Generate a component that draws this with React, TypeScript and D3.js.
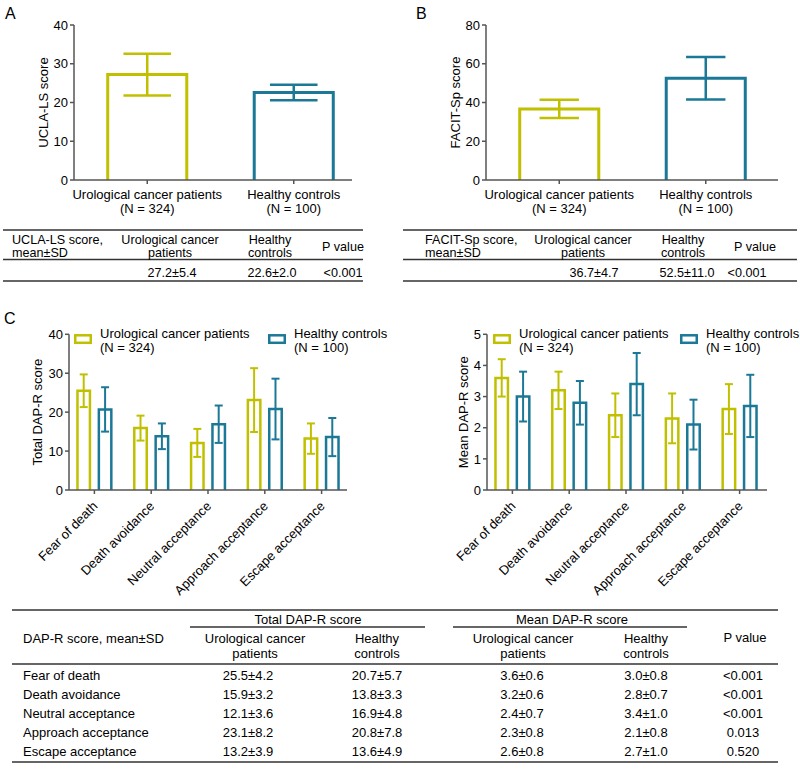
import React from "react";
import * as d3 from "d3";

const FONT = "Arial, 'Liberation Sans', sans-serif";
const YELLOW = "#c0c000";
const TEAL = "#1b7896";
const AXIS = "#555";
const LINE = "#333";

// groups used in panels A and B
const groups = ["Urological cancer patients", "Healthy controls"];
const groupN = ["(N = 324)", "(N = 100)"];
const groupColors = [YELLOW, TEAL];

const uclaMean = [27.2, 22.6];
const uclaSd = [5.4, 2.0];
const uclaTicks = [0, 10, 20, 30, 40];

const facitMean = [36.7, 52.5];
const facitSd = [4.7, 11.0];
const facitTicks = [0, 20, 40, 60, 80];

// panel C
const dapCategories = [
  "Fear of death",
  "Death avoidance",
  "Neutral acceptance",
  "Approach acceptance",
  "Escape acceptance",
];
const totalUcMean = [25.5, 15.9, 12.1, 23.1, 13.2];
const totalUcSd = [4.2, 3.2, 3.6, 8.2, 3.9];
const totalHcMean = [20.7, 13.8, 16.9, 20.8, 13.6];
const totalHcSd = [5.7, 3.3, 4.8, 7.8, 4.9];
const totalTicks = [0, 10, 20, 30, 40];

const meanUcMean = [3.6, 3.2, 2.4, 2.3, 2.6];
const meanUcSd = [0.6, 0.6, 0.7, 0.8, 0.8];
const meanHcMean = [3.0, 2.8, 3.4, 2.1, 2.7];
const meanHcSd = [0.8, 0.7, 1.0, 0.8, 1.0];
const meanTicks = [0, 1, 2, 3, 4, 5];

const pValues = ["<0.001", "<0.001", "<0.001", "0.013", "0.520"];

const fmt = (m: number, s: number) => `${m.toFixed(1)}±${s.toFixed(1)}`;

type SimpleProps = {
  axisX: number;
  axisEnd: number;
  rangeEnd: number;
  yMax: number;
  ticks: number[];
  means: number[];
  sds: number[];
  yLabel: string;
  yLabelX: number;
  capFrac: number;
};

const SimpleBars = (p: SimpleProps) => {
  const y = d3.scaleLinear().domain([0, p.yMax]).range([180, 25]);
  const x = d3
    .scaleBand<string>()
    .domain(groups)
    .range([p.axisX, p.rangeEnd])
    .paddingInner(0.44)
    .paddingOuter(0.22);
  const bw = x.bandwidth();
  const y0 = y(0);
  return (
    <g>
      {groups.map((g, i) => {
        const bx = x(g)! + 1.5;
        const w = bw - 3;
        const c = x(g)! + bw / 2;
        const cap = bw * p.capFrac;
        const lo = y(p.means[i] - p.sds[i]);
        const hi = y(p.means[i] + p.sds[i]);
        return (
          <g key={g} stroke={groupColors[i]} fill="none">
            <path
              d={`M${bx},${y0}V${y(p.means[i])}H${bx + w}V${y0}`}
              strokeWidth={3}
            />
            <line x1={c} x2={c} y1={lo} y2={hi} strokeWidth={2.5} />
            <line x1={c - cap / 2} x2={c + cap / 2} y1={lo} y2={lo} strokeWidth={2.5} />
            <line x1={c - cap / 2} x2={c + cap / 2} y1={hi} y2={hi} strokeWidth={2.5} />
          </g>
        );
      })}
      <g stroke={AXIS} strokeWidth={1.5}>
        <line x1={p.axisX} x2={p.axisX} y1={y0} y2={y(p.yMax)} />
        <line x1={p.axisX} x2={p.axisEnd} y1={y0} y2={y0} />
        {p.ticks.map((t) => (
          <line key={t} x1={p.axisX - 4} x2={p.axisX} y1={y(t)} y2={y(t)} />
        ))}
        {groups.map((g) => (
          <line key={g} x1={x(g)! + bw / 2} x2={x(g)! + bw / 2} y1={y0} y2={y0 + 4} />
        ))}
      </g>
      {p.ticks.map((t) => (
        <text key={t} x={p.axisX - 6} y={y(t)} dy="0.36em" textAnchor="end" fontSize={13}>
          {t}
        </text>
      ))}
      {groups.map((g, i) => (
        <text key={g} x={x(g)! + bw / 2} textAnchor="middle" fontSize={13}>
          <tspan x={x(g)! + bw / 2} y={199}>{g}</tspan>
          <tspan x={x(g)! + bw / 2} y={213}>{groupN[i]}</tspan>
        </text>
      ))}
      <text
        transform={`translate(${p.yLabelX},${(y0 + y(p.yMax)) / 2}) rotate(-90)`}
        textAnchor="middle"
        fontSize={13}
      >
        {p.yLabel}
      </text>
    </g>
  );
};

type GroupedProps = {
  axisX: number;
  axisEnd: number;
  range: [number, number];
  yMax: number;
  ticks: number[];
  series: { mean: number[]; sd: number[]; color: string }[];
  yLabel: string;
  yLabelX: number;
  legendX: [number, number];
};

const GroupedBars = (p: GroupedProps) => {
  const y = d3.scaleLinear().domain([0, p.yMax]).range([490, 334.3]);
  const x = d3.scaleBand<string>().domain(dapCategories).range(p.range);
  const step = x.bandwidth();
  const sub = d3
    .scaleBand<number>()
    .domain([0, 1])
    .range([step * 0.18, step * 0.82])
    .paddingInner(0.3);
  const bw = sub.bandwidth();
  const y0 = y(0);
  const cap = 8;
  return (
    <g>
      {dapCategories.map((cat, i) =>
        p.series.map((s, k) => {
          const bx = x(cat)! + sub(k)! + 1.25;
          const w = bw - 2.5;
          const c = x(cat)! + sub(k)! + bw / 2;
          const lo = y(s.mean[i] - s.sd[i]);
          const hi = y(s.mean[i] + s.sd[i]);
          return (
            <g key={cat + k} stroke={s.color} fill="none">
              <path d={`M${bx},${y0}V${y(s.mean[i])}H${bx + w}V${y0}`} strokeWidth={2.5} />
              <line x1={c} x2={c} y1={lo} y2={hi} strokeWidth={2} />
              <line x1={c - cap / 2} x2={c + cap / 2} y1={lo} y2={lo} strokeWidth={2} />
              <line x1={c - cap / 2} x2={c + cap / 2} y1={hi} y2={hi} strokeWidth={2} />
            </g>
          );
        })
      )}
      <g stroke={AXIS} strokeWidth={1.5}>
        <line x1={p.axisX} x2={p.axisX} y1={y0} y2={y(p.yMax)} />
        <line x1={p.axisX} x2={p.axisEnd} y1={y0} y2={y0} />
        {p.ticks.map((t) => (
          <line key={t} x1={p.axisX - 4} x2={p.axisX} y1={y(t)} y2={y(t)} />
        ))}
        {dapCategories.map((c) => (
          <line key={c} x1={x(c)! + step / 2} x2={x(c)! + step / 2} y1={y0} y2={y0 + 4} />
        ))}
      </g>
      {p.ticks.map((t) => (
        <text key={t} x={p.axisX - 6} y={y(t)} dy="0.36em" textAnchor="end" fontSize={13}>
          {t}
        </text>
      ))}
      {dapCategories.map((c) => (
        <text
          key={c}
          transform={`translate(${x(c)! + step / 2 + 4},${y0 + 17}) rotate(-45)`}
          textAnchor="end"
          fontSize={13}
        >
          {c}
        </text>
      ))}
      <text
        transform={`translate(${p.yLabelX},${(y0 + y(p.yMax)) / 2}) rotate(-90)`}
        textAnchor="middle"
        fontSize={13}
      >
        {p.yLabel}
      </text>
      {groups.map((g, k) => (
        <g key={g}>
          <rect
            x={p.legendX[k] + 1.25}
            y={335.3}
            width={15.5}
            height={7.5}
            fill="none"
            stroke={p.series[k].color}
            strokeWidth={2.5}
          />
          <text fontSize={13}>
            <tspan x={p.legendX[k] + 26} y={337.5}>{g}</tspan>
            <tspan x={p.legendX[k] + 26} y={352}>{groupN[k]}</tspan>
          </text>
        </g>
      ))}
    </g>
  );
};

const SmallTable = ({
  x1,
  x2,
  title,
  cols,
  dataCols,
  values,
  p,
}: {
  x1: number;
  x2: number;
  title: string;
  cols: number[];
  dataCols: number[];
  values: string[];
  p: string;
}) => (
  <g fontSize={12.6}>
    <g stroke={LINE} strokeWidth={1.3}>
      <line x1={x1} x2={x2} y1={230} y2={230} />
      <line x1={x1} x2={x2} y1={259.5} y2={259.5} />
      <line x1={x1} x2={x2} y1={281} y2={281} />
    </g>
    <text>
      <tspan x={cols[0]} y={244.3}>{title}</tspan>
      <tspan x={cols[0]} y={257}>mean±SD</tspan>
    </text>
    <text textAnchor="middle">
      <tspan x={cols[1]} y={244.3}>Urological cancer</tspan>
      <tspan x={cols[1]} y={257}>patients</tspan>
    </text>
    <text textAnchor="middle">
      <tspan x={cols[2]} y={244.3}>Healthy</tspan>
      <tspan x={cols[2]} y={257}>controls</tspan>
    </text>
    <text x={cols[3]} y={250.5} textAnchor="middle">P value</text>
    <text x={dataCols[0]} y={276.5} textAnchor="middle">{values[0]}</text>
    <text x={dataCols[1]} y={276.5} textAnchor="middle">{values[1]}</text>
    <text x={dataCols[2]} y={276.5} textAnchor="middle">{p}</text>
  </g>
);

const rowY = d3.scalePoint<string>().domain(dapCategories).range([680, 756]);

const BigTable = () => (
  <g fontSize={13}>
    <g stroke={LINE} strokeWidth={1.3}>
      <line x1={12} x2={778} y1={610} y2={610} />
      <line x1={190} x2={425} y1={627} y2={627} />
      <line x1={453} x2={687} y1={627} y2={627} />
      <line x1={12} x2={778} y1={664} y2={664} />
      <line x1={12} x2={778} y1={762} y2={762} />
    </g>
    <text x={308} y={624} textAnchor="middle">Total DAP-R score</text>
    <text x={572} y={624} textAnchor="middle">Mean DAP-R score</text>
    <text x={23} y={643}>DAP-R score, mean±SD</text>
    {[255, 523].map((cx) => (
      <text key={cx} textAnchor="middle">
        <tspan x={cx} y={642.5}>Urological cancer</tspan>
        <tspan x={cx} y={657.5}>patients</tspan>
      </text>
    ))}
    {[377, 646].map((cx) => (
      <text key={cx} textAnchor="middle">
        <tspan x={cx} y={642.5}>Healthy</tspan>
        <tspan x={cx} y={657.5}>controls</tspan>
      </text>
    ))}
    <text x={745} y={641.5} textAnchor="middle">P value</text>
    {dapCategories.map((c, i) => (
      <g key={c}>
        <text x={23} y={rowY(c)}>{c}</text>
        <text x={248} y={rowY(c)} textAnchor="middle">{fmt(totalUcMean[i], totalUcSd[i])}</text>
        <text x={377} y={rowY(c)} textAnchor="middle">{fmt(totalHcMean[i], totalHcSd[i])}</text>
        <text x={522} y={rowY(c)} textAnchor="middle">{fmt(meanUcMean[i], meanUcSd[i])}</text>
        <text x={646} y={rowY(c)} textAnchor="middle">{fmt(meanHcMean[i], meanHcSd[i])}</text>
        <text x={743} y={rowY(c)} textAnchor="middle">{pValues[i]}</text>
      </g>
    ))}
  </g>
);

export default function App() {
  return (
    <svg
      width={800}
      height={771}
      style={{ position: "absolute", left: 0, top: 0, background: "#fff" }}
      fontFamily={FONT}
    >
      <rect width={800} height={771} fill="#fff" />
      <text x={5} y={19} fontSize={16}>A</text>
      <text x={416} y={19} fontSize={16}>B</text>
      <text x={4} y={324} fontSize={16}>C</text>

      <SimpleBars
        axisX={74}
        axisEnd={352}
        rangeEnd={367}
        yMax={40}
        ticks={uclaTicks}
        means={uclaMean}
        sds={uclaSd}
        yLabel="UCLA-LS score"
        yLabelX={47.5}
        capFrac={0.58}
      />
      <SimpleBars
        axisX={486}
        axisEnd={778}
        rangeEnd={779}
        yMax={80}
        ticks={facitTicks}
        means={facitMean}
        sds={facitSd}
        yLabel="FACIT-Sp score"
        yLabelX={460}
        capFrac={0.48}
      />

      <SmallTable
        x1={3}
        x2={363}
        title="UCLA-LS score,"
        cols={[12, 170, 270, 343]}
        dataCols={[172, 272, 343]}
        values={[fmt(uclaMean[0], uclaSd[0]), fmt(uclaMean[1], uclaSd[1])]}
        p="<0.001"
      />
      <SmallTable
        x1={403}
        x2={797}
        title="FACIT-Sp score,"
        cols={[425, 583, 683, 755]}
        dataCols={[594, 687, 747]}
        values={[fmt(facitMean[0], facitSd[0]), fmt(facitMean[1], facitSd[1])]}
        p="<0.001"
      />

      <GroupedBars
        axisX={69}
        axisEnd={347}
        range={[66, 350]}
        yMax={40}
        ticks={totalTicks}
        series={[
          { mean: totalUcMean, sd: totalUcSd, color: YELLOW },
          { mean: totalHcMean, sd: totalHcSd, color: TEAL },
        ]}
        yLabel="Total DAP-R score"
        yLabelX={42}
        legendX={[74, 268]}
      />
      <GroupedBars
        axisX={487}
        axisEnd={767}
        range={[484, 768]}
        yMax={5}
        ticks={meanTicks}
        series={[
          { mean: meanUcMean, sd: meanUcSd, color: YELLOW },
          { mean: meanHcMean, sd: meanHcSd, color: TEAL },
        ]}
        yLabel="Mean DAP-R score"
        yLabelX={468}
        legendX={[493, 680]}
      />

      <BigTable />
    </svg>
  );
}
